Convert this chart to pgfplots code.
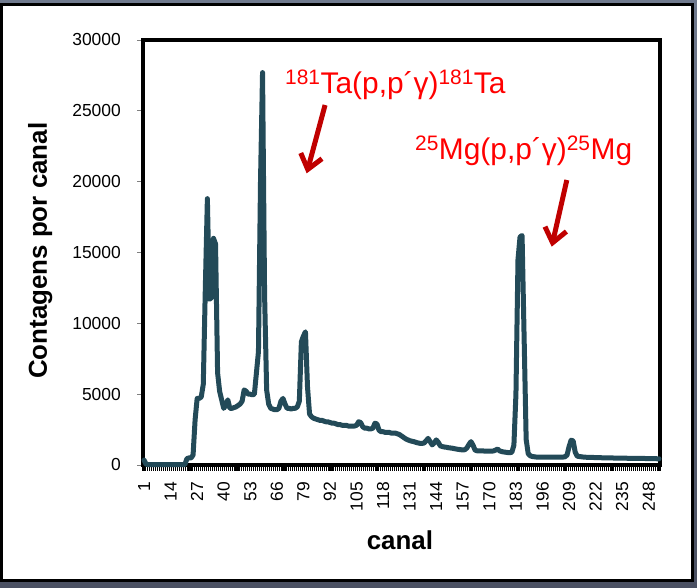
\documentclass[border=0pt]{standalone}
\usepackage{pgfplots}
\pgfplotsset{compat=1.18}
\usetikzlibrary{arrows.meta}
\usepackage{fontspec}
\setmainfont{Liberation Sans}
\setsansfont{Liberation Sans}

\definecolor{frametop}{RGB}{112,122,142}
\definecolor{framebottom}{RGB}{74,80,98}
\definecolor{spectrum}{RGB}{35,74,88}
\definecolor{arrowred}{RGB}{192,0,0}
\definecolor{labelred}{RGB}{255,0,0}
\definecolor{tickgray}{RGB}{128,128,128}

\begin{document}
\begin{tikzpicture}[x=1bp,y=1bp]
\useasboundingbox (0,0) rectangle (697,588);
% slide background and white panel
\shade[top color=frametop, bottom color=framebottom] (0,0) rectangle (697,588);
\draw[line width=3bp, fill=white] (1.5,7.5) rectangle (692.5,583.2);
\begin{axis}[
  at={(143bp,123bp)}, anchor=south west,
  scale only axis, width=517bp, height=425bp,
  xmin=0.5, xmax=253.5, ymin=0, ymax=30000,
  clip=false,
  scaled y ticks=false,
  axis line style={black, line width=3.5bp},
  tick align=outside,
  xtick={1,14,...,248},
  xticklabels={1,14,27,40,53,66,79,92,105,118,131,144,157,170,183,196,209,222,235,248},
  minor xtick={0.5,1.5,...,253.5},
  ytick={0,5000,...,30000},
  yticklabels={0,5000,10000,15000,20000,25000,30000},
  xtick pos=bottom, ytick pos=left,
  major tick length=6bp, minor tick length=6bp,
  every major x tick/.append style={draw=none},
  every minor x tick/.append style={black, line width=1.1bp},
  every major y tick/.append style={tickgray, line width=0.8bp},
  ticklabel style={font=\fontsize{17.5}{20}\selectfont, inner sep=0pt},
  xticklabel style={rotate=90, anchor=east},
  yticklabel style={anchor=east},
  xticklabel shift=11bp,
  yticklabel shift=16bp,
  xlabel={canal},
  ylabel={Contagens por canal},
  label style={font=\fontsize{26}{31}\selectfont\bfseries},
  xlabel style={at={(axis description cs:0.497,-0.176)}, anchor=center},
  ylabel style={at={(axis description cs:-0.199,0.504)}, anchor=center},
]
% gamma spectrum, counts per channel
\addplot[spectrum, line width=5bp, line join=round, line cap=round] coordinates {
(1,350) (2,60) (3,30) (4,30) (5,30) (6,30) (7,30) (8,30) (9,30) (10,30)
(11,30) (12,30) (13,30) (14,30) (15,30) (16,30) (17,30) (18,30) (19,30) (20,30)
(21,30) (22,450) (23,500) (24,500) (25,700) (26,3200) (27,4700) (28,4700) (29,4800) (30,5700)
(31,12500) (32,18800) (33,11700) (34,11800) (35,16000) (36,15600) (37,6500) (38,5200) (39,4600) (40,4000)
(41,4200) (42,4600) (43,4000) (44,4000) (45,4050) (46,4100) (47,4200) (48,4300) (49,4500) (50,5300)
(51,5200) (52,5000) (53,5000) (54,4950) (55,5000) (56,6500) (57,8000) (58,20000) (59,27700) (60,12000)
(61,5300) (62,4300) (63,4000) (64,3950) (65,3900) (66,3900) (67,4000) (68,4500) (69,4700) (70,4300)
(71,4000) (72,4000) (73,3950) (74,4000) (75,4000) (76,4100) (77,4500) (78,8700) (79,9100) (80,9400)
(81,5500) (82,3600) (83,3400) (84,3300) (85,3250) (86,3200) (87,3150) (88,3150) (89,3100) (90,3050)
(91,3050) (92,3000) (93,2950) (94,2950) (95,2900) (96,2850) (97,2850) (98,2800) (99,2800) (100,2800)
(101,2750) (102,2750) (103,2750) (104,2750) (105,2800) (106,3050) (107,3000) (108,2700) (109,2600) (110,2600)
(111,2550) (112,2550) (113,2600) (114,2950) (115,2900) (116,2450) (117,2350) (118,2350) (119,2300) (120,2300)
(121,2300) (122,2250) (123,2250) (124,2250) (125,2200) (126,2150) (127,2050) (128,1950) (129,1850) (130,1780)
(131,1720) (132,1680) (133,1650) (134,1600) (135,1560) (136,1530) (137,1520) (138,1550) (139,1700) (140,1880)
(141,1650) (142,1420) (143,1550) (144,1770) (145,1600) (146,1350) (147,1300) (148,1270) (149,1250) (150,1220)
(151,1200) (152,1180) (153,1150) (154,1120) (155,1100) (156,1080) (157,1060) (158,1080) (159,1200) (160,1450)
(161,1650) (162,1400) (163,1050) (164,1000) (165,1000) (166,990) (167,990) (168,980) (169,980) (170,980)
(171,980) (172,990) (173,1050) (174,1130) (175,1000) (176,950) (177,920) (178,900) (179,880) (180,870)
(181,900) (182,1400) (183,5000) (184,14500) (185,16100) (186,16200) (187,9000) (188,1800) (189,800) (190,650)
(191,600) (192,580) (193,560) (194,560) (195,560) (196,560) (197,560) (198,560) (199,560) (200,560)
(201,560) (202,560) (203,560) (204,560) (205,560) (206,560) (207,580) (208,700) (209,1300) (210,1750)
(211,1700) (212,900) (213,620) (214,600) (215,580) (216,560) (217,550) (218,540) (219,540) (220,530)
(221,530) (222,520) (223,520) (224,520) (225,510) (226,510) (227,500) (228,500) (229,500) (230,500)
(231,490) (232,490) (233,490) (234,480) (235,480) (236,480) (237,480) (238,470) (239,470) (240,470)
(241,470) (242,460) (243,460) (244,460) (245,460) (246,460) (247,450) (248,450) (249,450) (250,450)
(251,450) (252,440) (253,440)
};
% peak identifications
\node[anchor=base west, text=labelred, font=\fontsize{30}{36}\selectfont, inner sep=0pt]
  at (axis cs:70.0,26240) {\textsuperscript{181}Ta(p,p´γ)\textsuperscript{181}Ta};
\node[anchor=base west, text=labelred, font=\fontsize{30}{36}\selectfont, inner sep=0pt]
  at (axis cs:133.6,21530) {\textsuperscript{25}Mg(p,p´γ)\textsuperscript{25}Mg};
\draw[arrowred, line width=5bp, -{Straight Barb[length=14bp,width=22bp]}]
  (axis cs:89.6,25410) -- (axis cs:80.6,20590);
\draw[arrowred, line width=5bp, -{Straight Barb[length=14bp,width=22bp]}]
  (axis cs:207.9,20118) -- (axis cs:200.5,15410);
\end{axis}
\end{tikzpicture}
\end{document}
